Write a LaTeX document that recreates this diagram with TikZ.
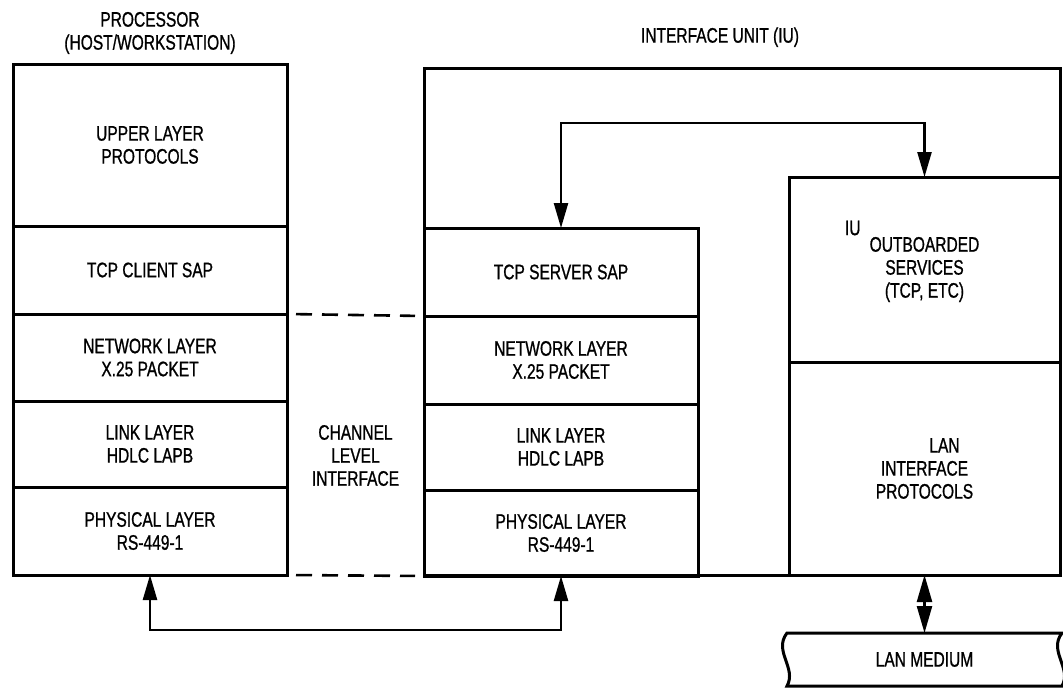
\documentclass[tikz,border=0pt]{standalone}
\usepackage{fontspec}
\setmainfont{Liberation Sans}[FakeStretch=0.74, FakeBold=0.9]
\usetikzlibrary{arrows.meta,positioning,calc}

\begin{document}
\begin{tikzpicture}[x=1pt, y=-1pt, font=\fontsize{21}{23}\selectfont,
   lyr/.style={draw, line width=3pt, minimum width=274pt, inner sep=0pt,
               outer sep=0pt, align=center},
   box/.style={draw, line width=3pt, inner sep=0pt, outer sep=0pt, align=center},
   lbl/.style={inner sep=0pt, outer sep=0pt, align=center},
   link/.style={line width=2.4pt, {Triangle[length=25pt,width=14pt]}-{Triangle[length=25pt,width=14pt]}},
   chan/.style={line width=2.6pt, dash pattern=on 16pt off 10pt, shorten <=9pt, shorten >=9pt}]
  \useasboundingbox (0,0) rectangle (1063,688);
  % host side
  \node[lyr, minimum height=162pt, anchor=north] (upper) at (150,64) {UPPER LAYER\\PROTOCOLS};
  \node[lyr, minimum height=88pt, below=0pt of upper] (tcpc)  {TCP CLIENT SAP};
  \node[lyr, minimum height=87pt, below=0pt of tcpc]  (netl)  {NETWORK LAYER\\X.25 PACKET};
  \node[lyr, minimum height=86pt, below=0pt of netl]  (linkl) {LINK LAYER\\HDLC LAPB};
  \node[lyr, minimum height=88pt, below=0pt of linkl] (phyl)  {PHYSICAL LAYER\\RS-449-1};
  \node[lbl, above=10pt of upper] (proc) {PROCESSOR\\(HOST/WORKSTATION)};
  % interface unit
  \node[box, minimum width=636pt, minimum height=507pt, anchor=north west] (iu) at (424,68) {};
  \node[lbl, above=21pt of iu, xshift=-22pt] (iutitle) {INTERFACE UNIT (IU)};
  \node[lyr, minimum height=88pt, anchor=north] (tcps) at (561,228) {TCP SERVER SAP};
  \node[lyr, minimum height=88pt, below=0pt of tcps]  (netr)  {NETWORK LAYER\\X.25 PACKET};
  \node[lyr, minimum height=86pt, below=0pt of netr]  (linkr) {LINK LAYER\\HDLC LAPB};
  \node[lyr, minimum height=86pt, below=0pt of linkr] (phyr)  {PHYSICAL LAYER\\RS-449-1};
  \node[box, minimum width=271pt, minimum height=185pt, anchor=north west] (obs) at (789,177)
    {OUTBOARDED\\SERVICES\\(TCP, ETC)};
  \node[lbl, anchor=west] (iutag) at ([xshift=56pt,yshift=-51pt]obs.north west) {IU};
  \node[box, minimum width=271pt, minimum height=213pt, below=0pt of obs] (lip)
    {\hspace*{40pt}LAN\\INTERFACE\\PROTOCOLS};
  \node[lbl] (chl) at ($(linkl.east)!0.5!(linkr.west)+(0,10)$) {CHANNEL\\LEVEL\\INTERFACE};
  \draw[chan] (tcpc.south east) -- (tcps.south west);
  \draw[chan] (phyl.south east) -- (phyr.south west);
  % connections
  \coordinate (topbend) at (0,123);
  \coordinate (botbend) at (0,630);
  \draw[link] (tcps.north) -- (tcps.north |- topbend) -| (obs.north);
  \draw[link] (phyl.south) -- (phyl.south |- botbend) -| (phyr.south);
  \node[lbl, minimum width=275pt, minimum height=53pt, below=58pt of lip] (lanm) {LAN MEDIUM};
  \draw[line width=2.4pt, {Triangle[length=27pt,width=15pt]}-{Triangle[length=27pt,width=15pt]}]
    (lip.south) -- (lanm.north);
  \draw[line width=3pt] (lanm.north west) -- (lanm.north east)
    .. controls +(-14,18) and +(10,-18) .. (lanm.south east) -- (lanm.south west)
    .. controls +(10,-18) and +(-14,18) .. (lanm.north west) -- cycle;
\end{tikzpicture}
\end{document}
